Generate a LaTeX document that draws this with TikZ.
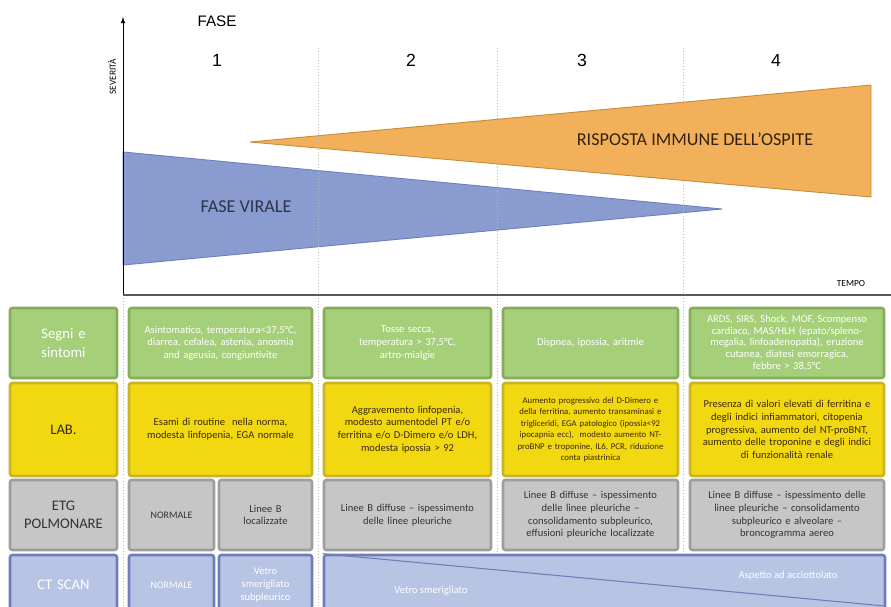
\documentclass[tikz,border=0pt]{standalone}
\usepackage{fontspec}
\setmainfont{Carlito}
\newfontfamily\arialfont{Liberation Sans}
\usetikzlibrary{arrows, positioning}
\definecolor{greenfill}{HTML}{A6CF7A}
\definecolor{greenline}{HTML}{86AC5C}
\definecolor{yellowfill}{HTML}{F2D810}
\definecolor{yellowline}{HTML}{C8B424}
\definecolor{grayfill}{HTML}{C6C6C6}
\definecolor{grayline}{HTML}{9E9E9E}
\definecolor{ctfill}{HTML}{B7C4E4}
\definecolor{ctline}{HTML}{6E7FB8}
\definecolor{virfill}{HTML}{8A9CCF}
\definecolor{virline}{HTML}{6F80BE}
\definecolor{immfill}{HTML}{F2B05A}
\definecolor{immline}{HTML}{C98E3C}
\definecolor{labtext}{HTML}{3A2A05}
\definecolor{etgtext}{HTML}{333333}
\tikzset{dims/.style 2 args={minimum width=#1*0.03cm, minimum height=#2*0.03cm, text width=#1*0.03cm-10pt}}

\begin{document}
\begin{tikzpicture}[
    x=0.03cm, y=-0.03cm,
    every node/.style={align=center, inner sep=0pt},
    cell/.style={draw, line width=2.2pt, rounded corners=2pt, font=\fontsize{9}{10.8}\selectfont},
    segni/.style={cell, fill=greenfill, draw=greenline, text=white},
    lab/.style={cell, fill=yellowfill, draw=yellowline, text=labtext},
    etg/.style={cell, fill=grayfill, draw=grayline, text=etgtext},
    ct/.style={cell, fill=ctfill, draw=ctline, text=white},
    header/.style={font=\fontsize{12.5}{15.5}\selectfont},
    phase/.style={draw=gray!55, dotted, line width=0.6pt},
    trilabel/.style={font=\fontsize{15.5}{18}\selectfont}
]
\clip (0,0) rectangle (891,606);

% curves of the disease
\fill[virfill, draw=virline, line width=0.8pt] (123,152) -- (722,209) -- (123,265) -- cycle;
\fill[immfill, draw=immline, line width=0.8pt] (250,142) -- (871,85) -- (871,197) -- cycle;
\node[trilabel, text=virline!40!black] (viral) at (246,207) {FASE VIRALE};
\node[trilabel, text=immline!25!black] (immune) at (695,139) {RISPOSTA IMMUNE DELL’OSPITE};

% phase separators
\foreach \px in {123,318,497,683}
    \draw[phase] (\px,48) -- (\px,606);

% axes
\coordinate (origin) at (123,295);
\coordinate (ytop) at (123,17);
\coordinate (xend) at (891,295);
\draw[-latex, line width=0.8pt] (origin) -- (ytop);
\draw[line width=1pt, black!65] (origin) -- (xend);
\node[font=\fontsize{8}{9}\selectfont, rotate=90] (sev) at (112,77) {SEVERITÀ};
\node[font=\fontsize{8}{9}\selectfont] (tempo) at (851,283) {TEMPO};
\node[font=\arialfont\fontsize{13}{15}\selectfont] (fase) at (217,21) {FASE};
\node[font=\arialfont\fontsize{15}{18}\selectfont] (f1) at (217,60) {1};
\node[font=\arialfont\fontsize{15}{18}\selectfont] (f2) at (411,60) {2};
\node[font=\arialfont\fontsize{15}{18}\selectfont] (f3) at (582,60) {3};
\node[font=\arialfont\fontsize{15}{18}\selectfont] (f4) at (776,60) {4};

% segni e sintomi
\node[segni, header, dims={107}{70}] (segni0) at (63.5,343) {Segni e\\sintomi};
\node[segni, dims={183}{70}] (segni1) at (220.5,343) {Asintomatico, temperatura<37,5°C,\\ diarrea, cefalea, astenia, anosmia\\ and ageusia, congiuntivite};
\node[segni, dims={167}{70}] (segni2) at (407.5,343) {Tosse secca,\\ temperatura > 37,5°C,\\ artro-mialgie};
\node[segni, dims={175}{70}] (segni3) at (590.5,343) {Dispnea, ipossia, aritmie};
\node[segni, dims={194}{70}, font=\fontsize{9}{10}\selectfont] (segni4) at (787,343) {ARDS, SIRS, Shock, MOF, Scompenso\\ cardiaco, MAS/HLH (epato/spleno-\\ megalia, linfoadenopatia), eruzione\\ cutanea, diatesi emorragica,\\ febbre > 38,5°C};

% laboratorio
\node[lab, header, dims={107}{93}] (lab0) at (63.5,429.5) {LAB.};
\node[lab, dims={183}{93}] (lab1) at (220.5,429.5) {Esami di routine \ nella norma,\\ modesta linfopenia, EGA normale};
\node[lab, dims={167}{93}] (lab2) at (407.5,429.5) {Aggravemento linfopenia,\\ modesto aumentodel PT e/o\\ ferritina e/o D-Dimero e/o LDH,\\ modesta ipossia > 92};
\node[lab, dims={175}{93}, font=\fontsize{7.5}{9.8}\selectfont] (lab3) at (590.5,429.5) {Aumento progressivo del D-Dimero e\\ della ferritina, aumento transaminasi e\\ trigliceridi, EGA patologico (ipossia<92\\ ipocapnia ecc), \ modesto aumento NT-\\ proBNP e troponine, IL6, PCR, riduzione\\ conta piastrinica};
\node[lab, dims={194}{93}] (lab4) at (787,429.5) {Presenza di valori elevati di ferritina e\\ degli indici infiammatori, citopenia\\ progressiva, aumento del NT-proBNT,\\ aumento delle troponine e degli indici\\ di funzionalità renale};

% ecografia
\node[etg, header, dims={107}{70}] (etg0) at (63.5,515) {ETG\\POLMONARE};
\node[etg, font=\fontsize{8.5}{10}\selectfont, dims={85}{70}] (etg1a) at (171.5,515) {NORMALE};
\node[etg, dims={93}{70}] (etg1b) at (265.5,515) {Linee B\\localizzate};
\node[etg, dims={167}{70}] (etg2) at (407.5,515) {Linee B diffuse -- ispessimento\\ delle linee pleuriche};
\node[etg, dims={175}{70}] (etg3) at (590.5,515) {Linee B diffuse -- ispessimento\\ delle linee pleuriche --\\ consolidamento subpleurico,\\ effusioni pleuriche localizzate};
\node[etg, dims={194}{70}] (etg4) at (787,515) {Linee B diffuse -- ispessimento delle\\ linee pleuriche -- consolidamento\\ subpleurico e alveolare --\\ broncogramma aereo};

% ct scan
\node[ct, header, dims={107}{60}] (ct0) at (63.5,585) {CT SCAN};
\node[ct, font=\fontsize{8.5}{10}\selectfont, dims={85}{60}] (ct1a) at (171.5,585) {NORMALE};
\node[ct, dims={93}{60}] (ct1b) at (265.5,585) {Vetro\\smerigliato\\subpleurico};
\node[ct, dims={561}{60}] (ctbig) at (604.5,585) {};
\coordinate (ctend) at (885,606);
\draw[ctline, line width=0.9pt] (ctbig.north west) -- (ctend);
\node[font=\fontsize{9}{10.8}\selectfont, text=white] (vetro) at (431,591) {Vetro smerigliato};
\node[font=\fontsize{9}{10.8}\selectfont, text=white] (aspetto) at (788,576) {Aspetto ad acciottolato};

\end{tikzpicture}
\end{document}
